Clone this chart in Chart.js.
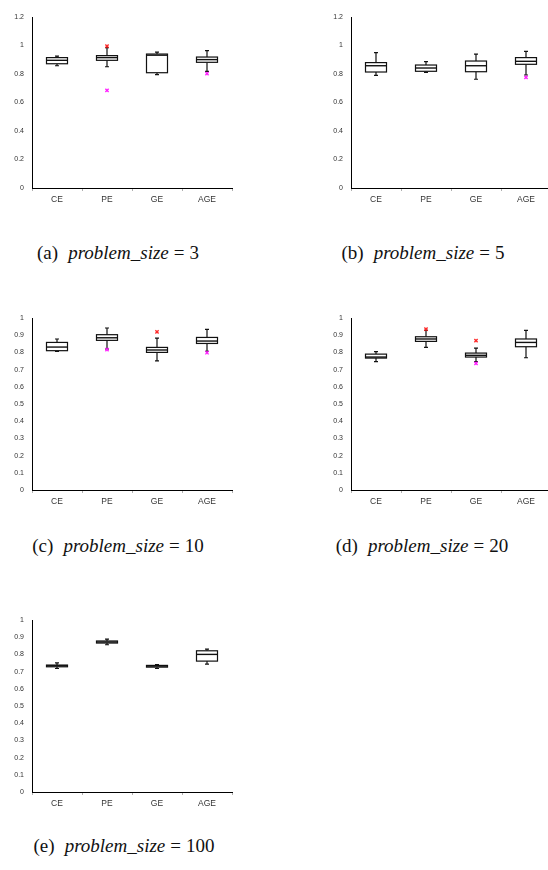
<!DOCTYPE html>
<html>
<head>
<meta charset="utf-8">
<script src="https://cdn.jsdelivr.net/npm/chart.js@4"></script>
<style>
    html, body { margin: 0; padding: 0; background: #fff; }
    body { width: 548px; height: 870px; position: relative; overflow: hidden; }
    canvas.panel { position: absolute; }
    .caption {
        position: absolute;
        transform: translateX(-50%);
        white-space: nowrap;
        font-family: 'Liberation Serif', 'DejaVu Serif', serif;
        font-size: 19px;
        line-height: 20px;
        color: #111;
    }
    .caption i { font-style: italic; }
    .caption .eq { margin: 0 5px; }
    .caption .tag { margin-right: 10px; }
</style>
</head>
<body>
<canvas class="panel" id="chartA" width="242" height="203" style="left:0px; top:7px"></canvas>
<canvas class="panel" id="chartB" width="242" height="203" style="left:319px; top:7px"></canvas>
<canvas class="panel" id="chartC" width="242" height="204" style="left:0px; top:308px"></canvas>
<canvas class="panel" id="chartD" width="242" height="204" style="left:319px; top:308px"></canvas>
<canvas class="panel" id="chartE" width="242" height="204" style="left:0px; top:610px"></canvas>

<div class="caption" style="left:118px; top:243px"><span class="tag">(a)</span><i>problem_size</i><span class="eq">=</span>3</div>
<div class="caption" style="left:423px; top:243px"><span class="tag">(b)</span><i>problem_size</i><span class="eq">=</span>5</div>
<div class="caption" style="left:118px; top:536px"><span class="tag">(c)</span><i>problem_size</i><span class="eq">=</span>10</div>
<div class="caption" style="left:422px; top:536px"><span class="tag">(d)</span><i>problem_size</i><span class="eq">=</span>20</div>
<div class="caption" style="left:124px; top:836px"><span class="tag">(e)</span><i>problem_size</i><span class="eq">=</span>100</div>

<script>
const categories = ['CE', 'PE', 'GE', 'AGE'];

// (a) problem_size = 3
const aLow = [0.858, 0.851, 0.795, 0.819];
const aQ1 = [0.872, 0.896, 0.809, 0.882];
const aMedian = [0.896, 0.915, 0.932, 0.901];
const aQ3 = [0.915, 0.929, 0.940, 0.919];
const aHigh = [0.926, 0.985, 0.954, 0.964];
const aOutHigh = [null, 0.996, null, null];
const aOutLow = [null, 0.685, null, 0.802];

// (b) problem_size = 5
const bLow = [0.791, 0.812, 0.763, 0.793];
const bQ1 = [0.814, 0.819, 0.816, 0.868];
const bMedian = [0.858, 0.842, 0.858, 0.889];
const bQ3 = [0.880, 0.863, 0.891, 0.915];
const bHigh = [0.950, 0.887, 0.940, 0.959];
const bOutHigh = [null, null, null, null];
const bOutLow = [null, null, null, 0.777];

// (c) problem_size = 10
const cLow = [0.806, 0.821, 0.751, 0.806];
const cQ1 = [0.810, 0.870, 0.800, 0.852];
const cMedian = [0.831, 0.885, 0.814, 0.866];
const cQ3 = [0.858, 0.903, 0.829, 0.887];
const cHigh = [0.878, 0.942, 0.883, 0.934];
const cOutHigh = [null, null, 0.920, null];
const cOutLow = [null, 0.816, null, 0.798];

// (d) problem_size = 20
const dLow = [0.746, 0.829, 0.746, 0.769];
const dQ1 = [0.767, 0.864, 0.773, 0.833];
const dMedian = [0.773, 0.878, 0.783, 0.858];
const dQ3 = [0.790, 0.891, 0.796, 0.878];
const dHigh = [0.804, 0.928, 0.825, 0.928];
const dOutHigh = [null, 0.936, 0.868, null];
const dOutLow = [null, null, 0.736, null];

// (e) problem_size = 100
const eLow = [0.718, 0.856, 0.718, 0.744];
const eQ1 = [0.728, 0.866, 0.726, 0.761];
const eMedian = [0.734, 0.872, 0.732, 0.800];
const eQ3 = [0.738, 0.878, 0.736, 0.821];
const eHigh = [0.751, 0.889, 0.740, 0.831];
const eOutHigh = [null, null, null, null];
const eOutLow = [null, null, null, null];

const yTicksTall = { max: 1.2, step: 0.2 };
const yTicksShort = { max: 1, step: 0.1 };

// draws box, median and whiskers using the chart scales
const boxPlugin = {
    id: 'boxes',
    beforeDatasetsDraw(chart, args, opts) {
        const { ctx, scales: { x, y } } = chart;
        const stats = opts.stats;
        if (!stats) return;
        const catW = x.getPixelForValue(1) - x.getPixelForValue(0);
        const half = catW * 0.21;
        const cap = 2;
        ctx.save();
        ctx.strokeStyle = '#111';
        ctx.lineWidth = 1.2;
        stats.low.forEach((_, i) => {
            const cx = Math.round(x.getPixelForValue(i));
            const pLow = y.getPixelForValue(stats.low[i]);
            const pQ1 = y.getPixelForValue(stats.q1[i]);
            const pMed = y.getPixelForValue(stats.median[i]);
            const pQ3 = y.getPixelForValue(stats.q3[i]);
            const pHigh = y.getPixelForValue(stats.high[i]);

            ctx.beginPath();
            ctx.moveTo(cx, pQ3); ctx.lineTo(cx, pHigh);
            ctx.moveTo(cx - cap, pHigh); ctx.lineTo(cx + cap, pHigh);
            ctx.moveTo(cx, pQ1); ctx.lineTo(cx, pLow);
            ctx.moveTo(cx - cap, pLow); ctx.lineTo(cx + cap, pLow);
            ctx.stroke();

            ctx.fillStyle = '#fff';
            ctx.fillRect(cx - half, pQ3, half * 2, pQ1 - pQ3);
            ctx.strokeRect(cx - half, pQ3, half * 2, pQ1 - pQ3);

            ctx.beginPath();
            ctx.lineWidth = 1.4;
            ctx.moveTo(cx - half, pMed); ctx.lineTo(cx + half, pMed);
            ctx.stroke();
            ctx.lineWidth = 1.2;
        });
        ctx.restore();
    }
};

function makeBoxChart(id, low, q1, median, q3, high, outHigh, outLow, yInfo) {
    const canvas = document.getElementById(id);
    return new Chart(canvas, {
        type: 'line',
        data: {
            labels: categories,
            datasets: [
                {
                    label: 'high outliers',
                    data: outHigh,
                    showLine: false,
                    pointStyle: 'crossRot',
                    pointRadius: 2.3,
                    pointBorderWidth: 1.4,
                    borderColor: '#ff2a2a',
                    backgroundColor: '#ff2a2a',
                },
                {
                    label: 'low outliers',
                    data: outLow,
                    showLine: false,
                    pointStyle: 'crossRot',
                    pointRadius: 2.3,
                    pointBorderWidth: 1.4,
                    borderColor: '#ff22ff',
                    backgroundColor: '#ff22ff',
                },
            ],
        },
        options: {
            responsive: false,
            animation: false,
            devicePixelRatio: 1,
            layout: { padding: { top: 10, right: 10, left: 0, bottom: 0 } },
            plugins: {
                legend: { display: false },
                tooltip: { enabled: false },
                boxes: { stats: { low, q1, median, q3, high } },
            },
            scales: {
                x: {
                    type: 'category',
                    offset: true,
                    grid: {
                        display: true,
                        offset: true,
                        drawOnChartArea: false,
                        drawTicks: true,
                        tickLength: 3,
                        color: '#b0b0b0',
                    },
                    border: { display: true, color: '#000', width: 1 },
                    ticks: {
                        color: '#333',
                        padding: 4,
                        maxRotation: 0,
                        font: { family: "'Liberation Sans', Arial, sans-serif", size: 8.5 },
                    },
                    afterFit: s => {
                        s.height = 22;
                        s.paddingLeft = 0;
                        s.paddingRight = 0;
                    },
                },
                y: {
                    min: 0,
                    max: yInfo.max,
                    grid: { display: true, drawOnChartArea: false, drawTicks: false },
                    border: { display: true, color: '#000', width: 1 },
                    ticks: {
                        stepSize: yInfo.step,
                        padding: 8,
                        color: '#333',
                        font: { family: "'Liberation Sans', Arial, sans-serif", size: 7 },
                        callback: v => String(+v.toFixed(1)),
                    },
                    afterFit: s => {
                        s.width = 32;
                        s.paddingTop = 0;
                        s.paddingBottom = 0;
                    },
                },
            },
        },
        plugins: [boxPlugin],
    });
}

makeBoxChart('chartA', aLow, aQ1, aMedian, aQ3, aHigh, aOutHigh, aOutLow, yTicksTall);
makeBoxChart('chartB', bLow, bQ1, bMedian, bQ3, bHigh, bOutHigh, bOutLow, yTicksTall);
makeBoxChart('chartC', cLow, cQ1, cMedian, cQ3, cHigh, cOutHigh, cOutLow, yTicksShort);
makeBoxChart('chartD', dLow, dQ1, dMedian, dQ3, dHigh, dOutHigh, dOutLow, yTicksShort);
makeBoxChart('chartE', eLow, eQ1, eMedian, eQ3, eHigh, eOutHigh, eOutLow, yTicksShort);
</script>
</body>
</html>
